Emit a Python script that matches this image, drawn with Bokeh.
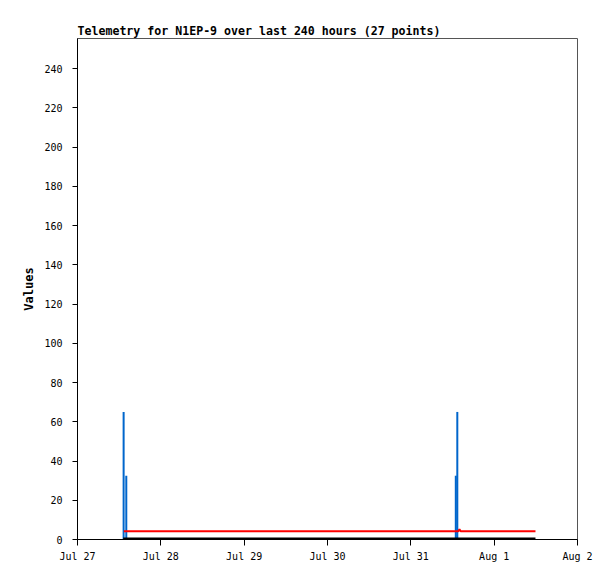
from datetime import datetime
from bokeh.plotting import figure
from bokeh.models import Range1d, FixedTicker, CustomJSTickFormatter
from bokeh.embed import file_html
from bokeh.resources import INLINE

# ---- data ----
title_text = "Telemetry for N1EP-9 over last 240 hours (27 points)"
y_label = "Values"
x_tick_days = ["2024-07-27", "2024-07-28", "2024-07-29", "2024-07-30",
               "2024-07-31", "2024-08-01", "2024-08-02"]
y_ticks = [0, 20, 40, 60, 80, 100, 120, 140, 160, 180, 200, 220, 240]

blue_times = ["2024-07-27 13:17", "2024-07-27 14:03",
              "2024-07-31 12:57", "2024-07-31 13:23"]
blue_values = [65, 32.5, 32.5, 65]

red_times = ["2024-07-27 13:20", "2024-07-28 00:00", "2024-07-28 12:00",
             "2024-07-29 00:00", "2024-07-29 12:00", "2024-07-30 00:00",
             "2024-07-30 12:00", "2024-07-31 00:00", "2024-07-31 13:40",
             "2024-07-31 14:00", "2024-07-31 14:20", "2024-08-01 00:00",
             "2024-08-01 06:00", "2024-08-01 11:54"]
red_values = [4.2, 4.2, 4.2, 4.2, 4.2, 4.2, 4.2, 4.2, 4.2, 5.2, 4.2, 4.2, 4.2, 4.2]

black_times = ["2024-07-27 13:10", "2024-07-28 12:00", "2024-07-29 12:00",
               "2024-07-30 12:00", "2024-07-31 12:00", "2024-08-01 00:00",
               "2024-08-01 06:00", "2024-08-01 11:54"]
black_values = [0, 0, 0, 0, 0, 0, 0, 0]

y_start, y_end = 0, 255.3
x_start, x_end = "2024-07-27 00:00", "2024-08-02 00:00"

def dt(s):
    if len(s) == 10:
        return datetime.strptime(s, "%Y-%m-%d")
    return datetime.strptime(s, "%Y-%m-%d %H:%M")

EPOCH = datetime(1970, 1, 1)
def ms(d):
    return (d - EPOCH).total_seconds() * 1000.0

p = figure(width=608, height=576, output_backend="svg", toolbar_location=None,
           x_axis_type="datetime",
           x_range=Range1d(start=dt(x_start), end=dt(x_end)),
           y_range=Range1d(start=y_start, end=y_end),
           min_border_left=77, min_border_right=31, min_border_top=38,
           min_border_bottom=37)

p.title.text = title_text
p.title.text_font = "DejaVu Sans Mono"
p.title.text_font_style = "bold"
p.title.text_font_size = "11.6px"
p.title.text_color = "black"
p.title.align = "left"
p.title.offset = 0
p.title.standoff = 2

p.grid.visible = False
p.outline_line_color = "#555555"
p.outline_line_width = 1
p.background_fill_color = "white"
p.border_fill_color = "white"

# series
p.segment(x0=[dt(t) for t in blue_times], y0=[0] * len(blue_times),
          x1=[dt(t) for t in blue_times], y1=blue_values,
          line_color="#0066cc", line_width=2)
p.line([dt(t) for t in black_times], black_values, line_color="black", line_width=4)
p.line([dt(t) for t in red_times], red_values, line_color="#ff0000", line_width=2)

# axes
for ax in (p.xaxis[0], p.yaxis[0]):
    ax.axis_line_color = "black"
    ax.major_tick_line_color = "black"
    ax.major_tick_in = 0
    ax.minor_tick_line_color = None
    ax.major_label_text_font = "DejaVu Sans Mono"
    ax.major_label_text_font_size = "10px"
    ax.major_label_text_color = "black"

p.xaxis.ticker = FixedTicker(ticks=[ms(dt(d)) for d in x_tick_days])
p.xaxis.formatter = CustomJSTickFormatter(code="""
const m = ["Jan","Feb","Mar","Apr","May","Jun","Jul","Aug","Sep","Oct","Nov","Dec"];
const d = new Date(tick);
return m[d.getUTCMonth()] + " " + d.getUTCDate();
""")
p.xaxis.major_tick_out = 6
p.xaxis.major_label_standoff = 5

p.yaxis.ticker = FixedTicker(ticks=y_ticks)
p.yaxis.major_tick_out = 5
p.yaxis.major_label_standoff = 10
p.yaxis.axis_label = y_label
p.yaxis.axis_label_text_font = "DejaVu Sans Mono"
p.yaxis.axis_label_text_font_style = "bold"
p.yaxis.axis_label_text_font_size = "12px"
p.yaxis.axis_label_text_color = "black"
p.yaxis.axis_label_standoff = 5

open("out.html", "w").write(file_html(p, INLINE))
